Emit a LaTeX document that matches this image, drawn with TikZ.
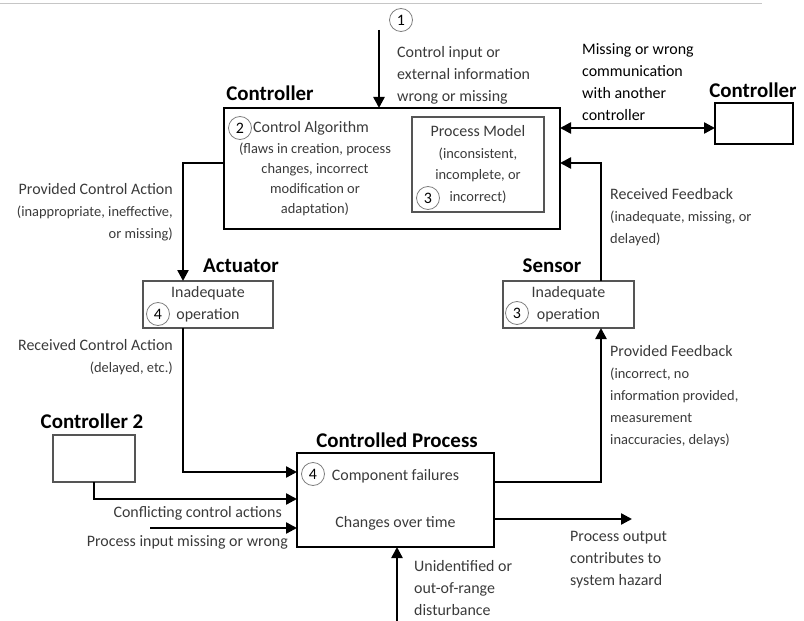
\documentclass[tikz,border=0pt]{standalone}
\usepackage{fontspec}
\setmainfont{Carlito}
\usetikzlibrary{arrows.meta}

\definecolor{txtgray}{HTML}{3A3A3A}
\definecolor{boxgray}{HTML}{555555}
\newcommand{\maintxt}{\fontsize{16}{22}\selectfont}
\newcommand{\subtxt}{\fontsize{14.5}{20}\selectfont}
\newcommand{\titletxt}{\fontsize{21}{25}\selectfont\bfseries}

\tikzset{
	bigbox/.style   = {draw = black, line width = 2.5bp, inner sep = 0, outer sep = 0},
	smallbox/.style = {draw = boxgray, line width = 1.2bp, inner sep = 0, outer sep = 0,
	                   text = txtgray, font = \maintxt, align = center},
	title/.style    = {font = \titletxt, text = black, inner sep = 0},
	txt/.style      = {font = \maintxt, text = txtgray, inner sep = 0},
	num/.style      = {circle, draw = gray, line width = 0.8bp, minimum size = 23bp,
	                   inner sep = 0, font = \maintxt, text = black},
	flow/.style     = {line width = 2.4bp, -{Triangle[length = 11bp, width = 11bp]}},
	twoway/.style   = {line width = 2.4bp, {Triangle[length = 11bp, width = 11bp]}-{Triangle[length = 11bp, width = 11bp]}}
}

\begin{document}
\begin{tikzpicture}[x = 1bp, y = -1bp]
	\useasboundingbox (0,0) rectangle (804,621);
	% Top rule
	\draw[gray!45, line width = 1bp] (0,4) -- (762,4);
	% Boxes
	\node[bigbox, minimum width = 336bp, minimum height = 121bp] (ctrl) at (392,168.5) {};
	\node[smallbox, minimum width = 132bp, minimum height = 95bp] (pm) at (478,164.5)
		{Process Model\\ \subtxt (inconsistent,\\ \subtxt incomplete, or\\ \subtxt incorrect)};
	\node[smallbox, minimum width = 130bp, minimum height = 47bp] (act) at (208,304.5) {Inadequate\\operation};
	\node[smallbox, minimum width = 131bp, minimum height = 47bp] (sen) at (568.5,304.5) {Inadequate\\operation};
	\node[bigbox, minimum width = 197bp, minimum height = 94bp, font = \maintxt, text = txtgray, align = center] (proc) at (395.5,500)
		{Component failures\\[25bp]Changes over time};
	\node[smallbox, minimum width = 82bp, minimum height = 47bp] (ctrltwo) at (94,458.5) {};
	\node[bigbox, line width = 1.8bp, minimum width = 78bp, minimum height = 41bp] (other) at (754,123.5) {};
	% Titles
	\node[title] (ctrltitle) at (270,93) {Controller};
	\node[title] (othertitle) at (753,90) {Controller};
	\node[title] (acttitle) at (241,266) {Actuator};
	\node[title] (sentitle) at (552,266) {Sensor};
	\node[title] (ctrltwotitle) at (92,421) {Controller 2};
	\node[title] (proctitle) at (397,440) {Controlled Process};
	% Numbered circles
	\node[num] (n1) at (401,20) {1};
	\node[num] (n2) at (240,128) {2};
	\node[num] (n3pm) at (428,198) {3};
	\node[num] (n4act) at (158,314) {4};
	\node[num] (n3sen) at (517,313) {3};
	\node[num] (n4proc) at (313,474) {4};
	% Text inside the controller
	\node[txt, anchor = west] (algo) at (253,128) {Control Algorithm};
	\node[txt, font = \subtxt, align = center] (algonote) at (315,179)
		{(flaws in creation, process\\changes, incorrect\\modification or\\adaptation)};
	% Free ends
	\coordinate (input) at (379,30);
	\coordinate (procin) at (150,528);
	\coordinate (out) at (632,519);
	\coordinate (dist) at (397,621);
	% Connectors
	\draw[flow] (input) -- (input |- ctrl.north);
	\draw[flow] ([yshift = 5.5bp]ctrl.west) -| ([xshift = -25bp]act.north);
	\draw[flow] ([xshift = -25bp]act.south) |- ([yshift = 28bp]proc.west);
	\draw[flow] (ctrltwo.south) |- ([yshift = 1bp]proc.west);
	\draw[flow] (procin) -- (procin -| proc.west);
	\draw[flow] ([yshift = 18bp]proc.east) -| ([xshift = 32.5bp]sen.south);
	\draw[flow] ([xshift = 32.5bp]sen.north) |- ([yshift = 5.5bp]ctrl.east);
	\draw[twoway] ([yshift = 40.5bp]ctrl.east) coordinate (comm) -- (comm -| other.west);
	\draw[flow] (out -| proc.east) -- (out);
	\draw[flow] (dist) -- (dist |- proc.south);
	% Labels
	\node[txt, anchor = west, align = left] (inputlbl) at (397,75)
		{Control input or\\external information\\wrong or missing};
	\node[txt, anchor = west, align = left, text = black] (commlbl) at (582,82)
		{Missing or wrong\\communication\\with another\\controller};
	\node[txt, anchor = east, align = right] (pcalbl) at (173,212)
		{Provided Control Action\\ \subtxt (inappropriate, ineffective,\\ \subtxt or missing)};
	\node[txt, anchor = east, align = right] (rcalbl) at (173,357)
		{Received Control Action\\ \subtxt (delayed, etc.)};
	\node[txt, anchor = east] (conflbl) at (282,513) {Conflicting control actions};
	\node[txt, anchor = east] (pinlbl) at (288,542) {Process input missing or wrong};
	\node[txt, anchor = west, align = left] (rflbl) at (610,217)
		{Received Feedback\\ \subtxt (inadequate, missing, or\\ \subtxt delayed)};
	\node[txt, anchor = west, align = left] (pflbl) at (610,396)
		{Provided Feedback\\ \subtxt (incorrect, no\\ \subtxt information provided,\\ \subtxt measurement\\ \subtxt inaccuracies, delays)};
	\node[txt, anchor = west, align = left] (outlbl) at (570,560)
		{Process output\\contributes to\\system hazard};
	\node[txt, anchor = west, align = left] (distlbl) at (414,588)
		{Unidentified or\\out-of-range\\disturbance};
\end{tikzpicture}
\end{document}
